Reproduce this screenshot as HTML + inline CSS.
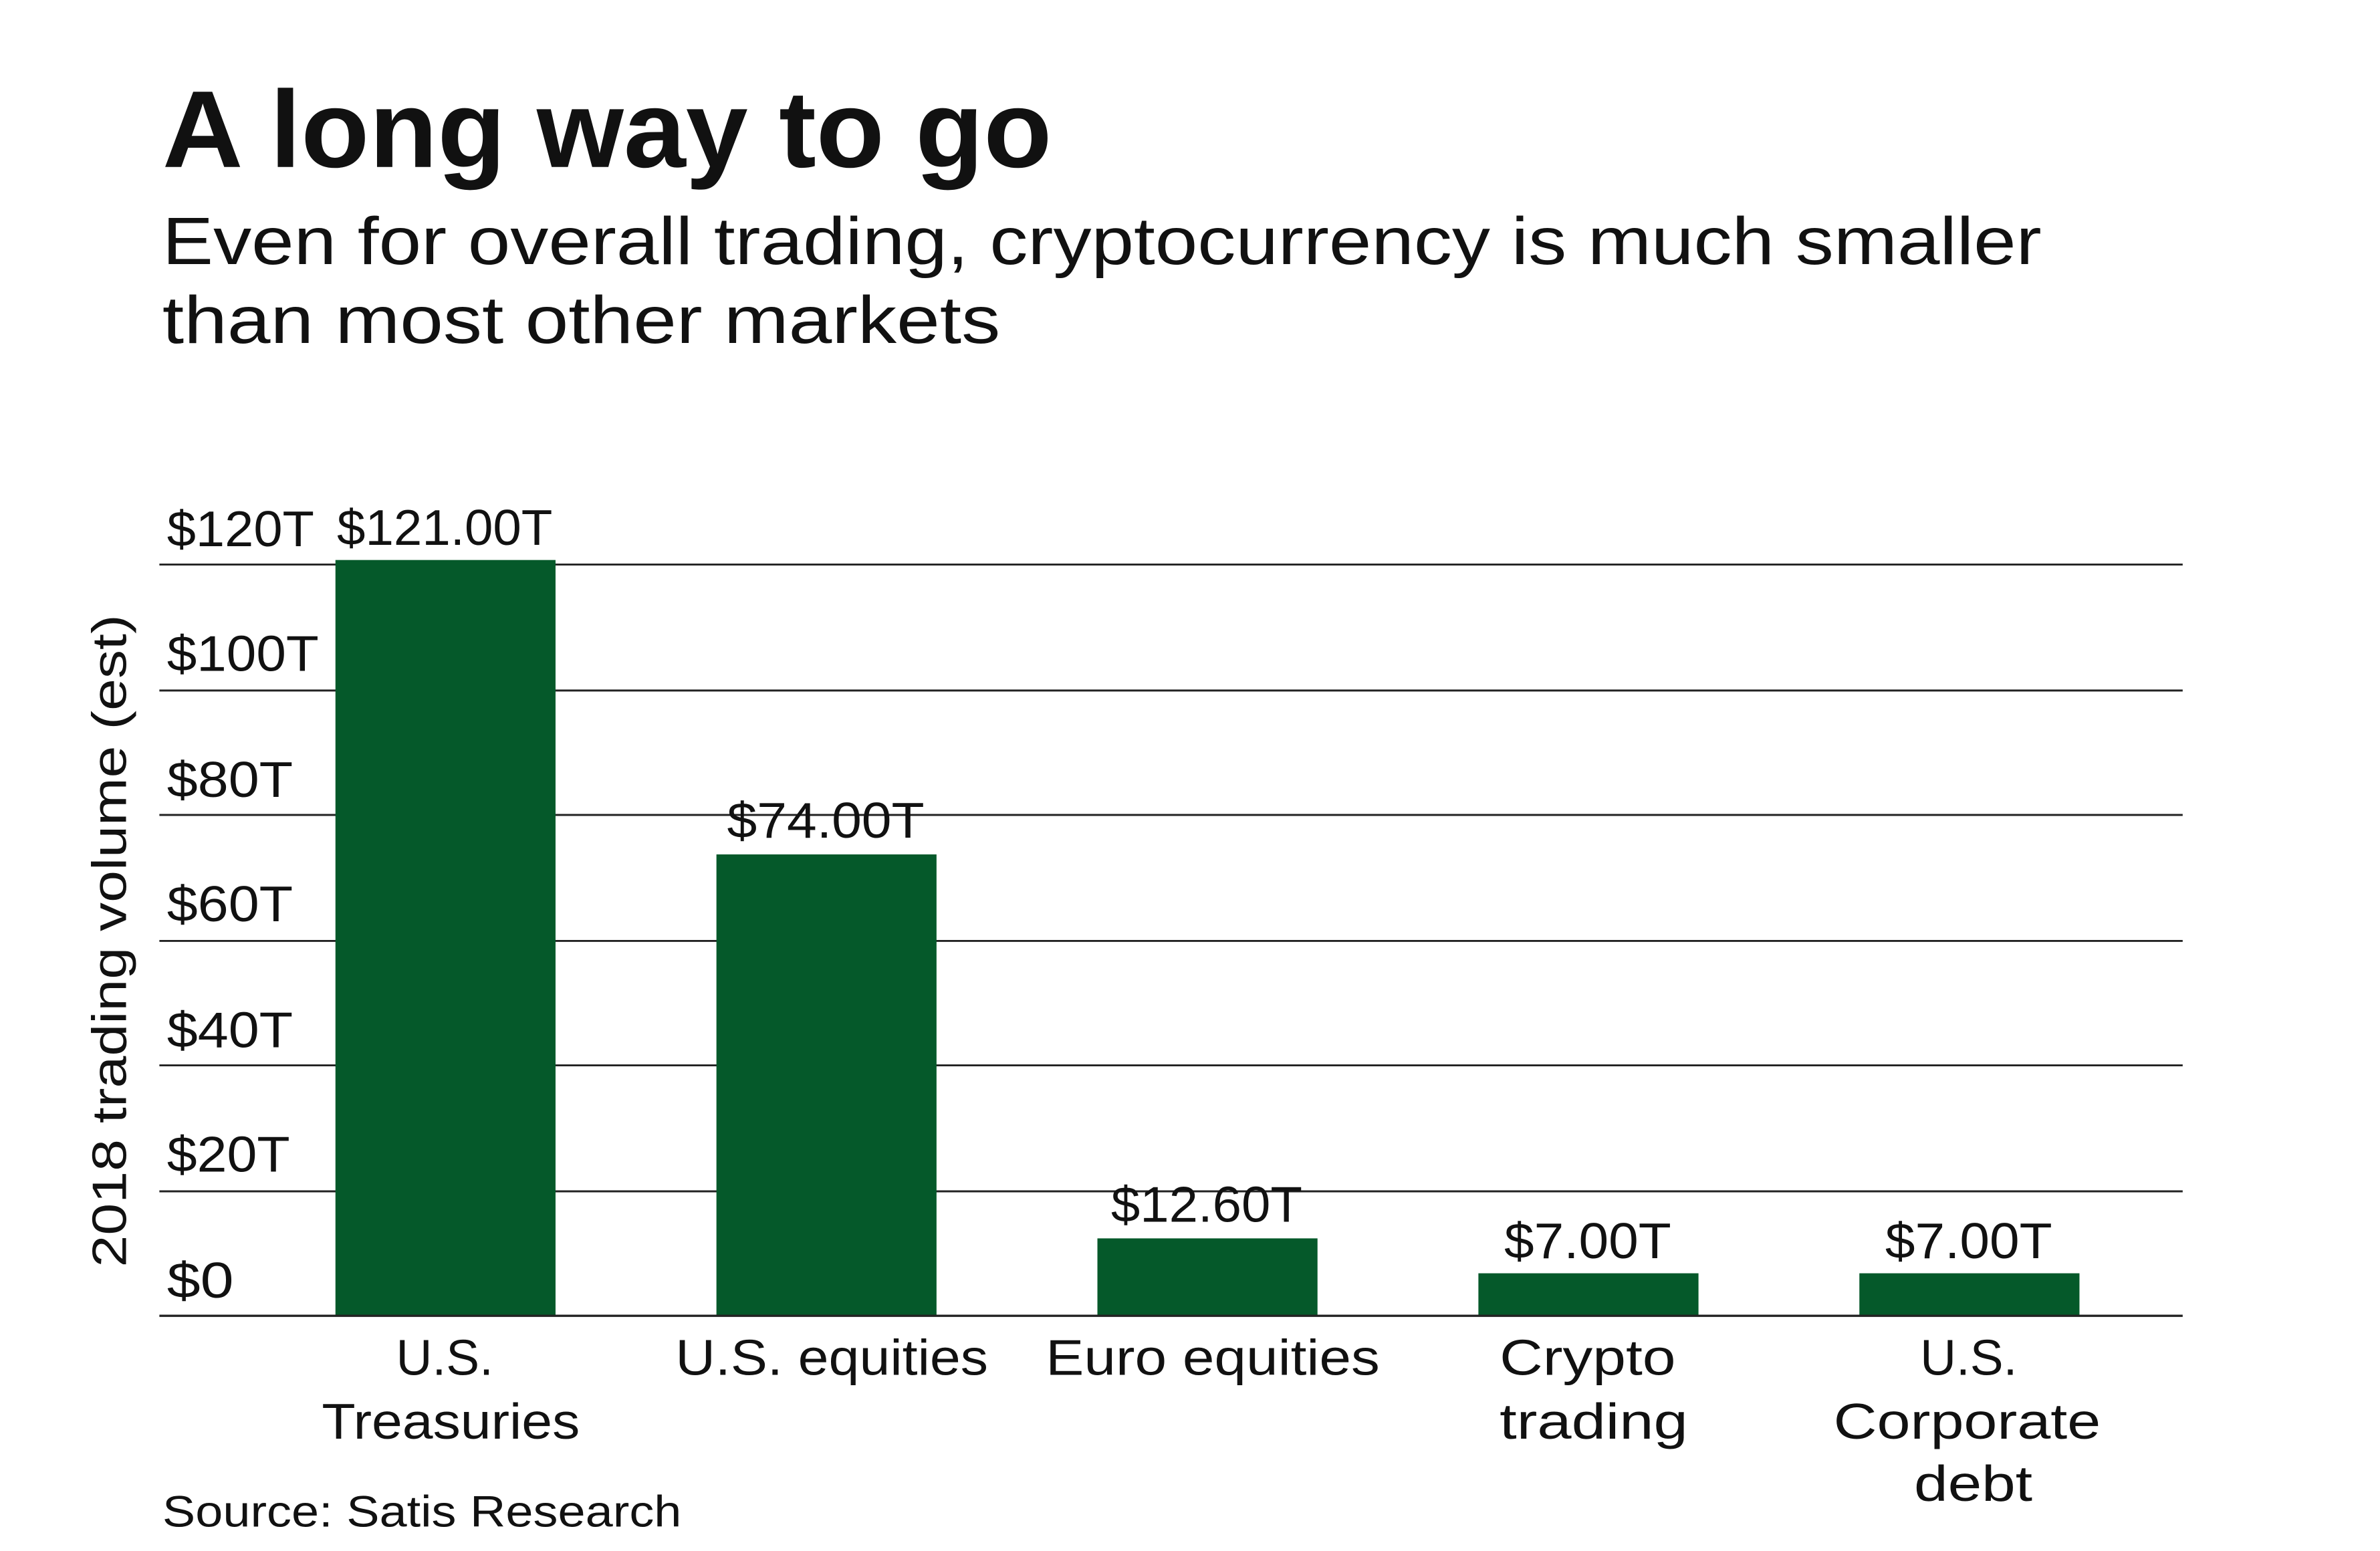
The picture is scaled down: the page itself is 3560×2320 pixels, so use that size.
<!DOCTYPE html>
<html><head><meta charset="utf-8"><style>
html,body{margin:0;padding:0;background:#fff;}
svg{display:block;}
text{font-family:"Liberation Sans",sans-serif;fill:#111;}
</style></head><body>
<svg width="3560" height="2320" viewBox="0 0 1568 1022" preserveAspectRatio="none" xmlns="http://www.w3.org/2000/svg">
<rect width="1600" height="1050" fill="#fff"/>
<text x="107" y="110" font-size="72" font-weight="bold" textLength="586" lengthAdjust="spacingAndGlyphs">A long way to go</text>
<text x="107" y="174" font-size="44" textLength="1238" lengthAdjust="spacingAndGlyphs">Even for overall trading, cryptocurrency is much smaller</text>
<text x="107" y="226" font-size="44" textLength="552" lengthAdjust="spacingAndGlyphs">than most other markets</text>
<g stroke="#222" stroke-width="1.3">
<line x1="105" y1="372" x2="1438" y2="372"/>
<line x1="105" y1="455" x2="1438" y2="455"/>
<line x1="105" y1="537" x2="1438" y2="537"/>
<line x1="105" y1="620" x2="1438" y2="620"/>
<line x1="105" y1="702" x2="1438" y2="702"/>
<line x1="105" y1="785" x2="1438" y2="785"/>
</g>
<g font-size="33">
<text x="110" y="360" textLength="97" lengthAdjust="spacingAndGlyphs">$120T</text>
<text x="110" y="442" textLength="100" lengthAdjust="spacingAndGlyphs">$100T</text>
<text x="110" y="525" textLength="83" lengthAdjust="spacingAndGlyphs">$80T</text>
<text x="110" y="607" textLength="83" lengthAdjust="spacingAndGlyphs">$60T</text>
<text x="110" y="690" textLength="83" lengthAdjust="spacingAndGlyphs">$40T</text>
<text x="110" y="772" textLength="81" lengthAdjust="spacingAndGlyphs">$20T</text>
<text x="110" y="855" textLength="44" lengthAdjust="spacingAndGlyphs">$0</text>
</g>
<g fill="#05592a">
<rect x="221" y="369" width="145" height="498"/>
<rect x="472" y="563" width="145" height="304"/>
<rect x="723" y="816" width="145" height="51"/>
<rect x="974" y="839" width="145" height="28"/>
<rect x="1225" y="839" width="145" height="28"/>
</g>
<line x1="105" y1="867" x2="1438" y2="867" stroke="#222" stroke-width="1.5"/>
<g font-size="33" text-anchor="middle">
<text x="293" y="359" textLength="142" lengthAdjust="spacingAndGlyphs">$121.00T</text>
<text x="544" y="552" textLength="130" lengthAdjust="spacingAndGlyphs">$74.00T</text>
<text x="795" y="805" textLength="126" lengthAdjust="spacingAndGlyphs">$12.60T</text>
<text x="1046" y="829" textLength="110" lengthAdjust="spacingAndGlyphs">$7.00T</text>
<text x="1297" y="829" textLength="110" lengthAdjust="spacingAndGlyphs">$7.00T</text>
<text x="293" y="906" textLength="64" lengthAdjust="spacingAndGlyphs">U.S.</text>
<text x="297" y="948" textLength="170" lengthAdjust="spacingAndGlyphs">Treasuries</text>
<text x="548" y="906" textLength="206" lengthAdjust="spacingAndGlyphs">U.S. equities</text>
<text x="799" y="906" textLength="220" lengthAdjust="spacingAndGlyphs">Euro equities</text>
<text x="1046" y="906" textLength="116" lengthAdjust="spacingAndGlyphs">Crypto</text>
<text x="1050" y="948" textLength="124" lengthAdjust="spacingAndGlyphs">trading</text>
<text x="1297" y="906" textLength="64" lengthAdjust="spacingAndGlyphs">U.S.</text>
<text x="1296" y="948" textLength="176" lengthAdjust="spacingAndGlyphs">Corporate</text>
<text x="1300" y="989" textLength="78" lengthAdjust="spacingAndGlyphs">debt</text>
</g>
<text x="0" y="0" font-size="32" text-anchor="middle" textLength="430" lengthAdjust="spacingAndGlyphs" transform="translate(83,620) rotate(-90)">2018 trading volume (est)</text>
<text x="107" y="1006" font-size="29" textLength="342" lengthAdjust="spacingAndGlyphs">Source: Satis Research</text>
</svg>
</body></html>
